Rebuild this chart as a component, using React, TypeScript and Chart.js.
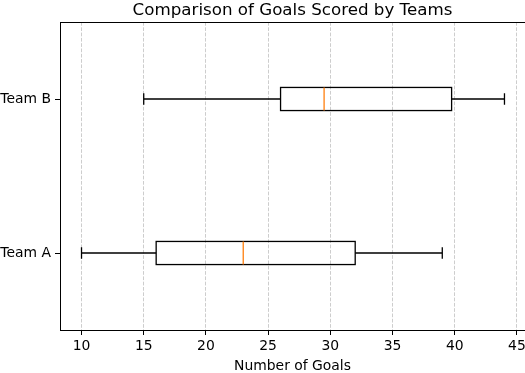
import React, { useEffect, useRef } from "react";
import { Chart, registerables } from "chart.js";

Chart.register(...registerables);

const teams = ["Team A", "Team B"];
const mins = [10, 15];
const q1s = [16, 26];
const medians = [23, 29.5];
const q3s = [32, 39.75];
const maxs = [39, 44];
const xTicks = [10, 15, 20, 25, 30, 35, 40, 45];

const chartTitle = "Comparison of Goals Scored by Teams";
const xTitle = "Number of Goals";
const FONT = "DejaVu Sans";

const boxPlugin = {
  id: "boxes",
  afterDatasetsDraw(chart: any) {
    const { ctx, scales, chartArea } = chart;
    const xs = scales.x;
    const ys = scales.y;
    ctx.save();
    ctx.beginPath();
    ctx.rect(chartArea.left, chartArea.top, chartArea.right - chartArea.left, chartArea.bottom - chartArea.top);
    ctx.clip();
    ctx.lineWidth = 1.3;
    for (let i = 0; i < teams.length; i++) {
      const yc = ys.getPixelForValue(i + 1);
      const half = Math.abs(ys.getPixelForValue(i + 1 + 0.075) - yc);
      const capHalf = half / 2;
      const xMin = xs.getPixelForValue(mins[i]);
      const xQ1 = xs.getPixelForValue(q1s[i]);
      const xMed = xs.getPixelForValue(medians[i]);
      const xQ3 = xs.getPixelForValue(q3s[i]);
      const xMax = xs.getPixelForValue(maxs[i]);
      ctx.strokeStyle = "#000";
      ctx.beginPath();
      ctx.moveTo(xMin, yc);
      ctx.lineTo(xQ1, yc);
      ctx.moveTo(xQ3, yc);
      ctx.lineTo(xMax, yc);
      ctx.moveTo(xMin, yc - capHalf);
      ctx.lineTo(xMin, yc + capHalf);
      ctx.moveTo(xMax, yc - capHalf);
      ctx.lineTo(xMax, yc + capHalf);
      ctx.stroke();
      ctx.strokeRect(xQ1, yc - half, xQ3 - xQ1, 2 * half);
      ctx.strokeStyle = "#ff7f0e";
      ctx.beginPath();
      ctx.moveTo(xMed, yc - half);
      ctx.lineTo(xMed, yc + half);
      ctx.stroke();
    }
    ctx.restore();
  },
  afterDraw(chart: any) {
    const { ctx, chartArea } = chart;
    ctx.save();
    // top spine
    ctx.strokeStyle = "#000";
    ctx.lineWidth = 1;
    ctx.beginPath();
    ctx.moveTo(chartArea.left, Math.round(chartArea.top) + 0.5);
    ctx.lineTo(chartArea.right, Math.round(chartArea.top) + 0.5);
    ctx.stroke();
    ctx.fillStyle = "#000";
    ctx.textAlign = "center";
    ctx.textBaseline = "alphabetic";
    const cx = (chartArea.left + chartArea.right) / 2;
    ctx.font = `16.7px "${FONT}"`;
    ctx.fillText(chartTitle, cx, 15);
    ctx.font = `13.9px "${FONT}"`;
    ctx.fillText(xTitle, cx, 370);
    ctx.restore();
  },
};

export default function App() {
  const ref = useRef<HTMLCanvasElement>(null);
  useEffect(() => {
    document.body.style.margin = "0";
    const canvas = ref.current!;
    const chart = new Chart(canvas, {
      type: "scatter",
      data: {
        datasets: [
          {
            data: medians.map((m, i) => ({ x: m, y: i + 1 })),
            pointRadius: 0,
            showLine: false,
          },
        ],
      },
      options: {
        animation: false,
        responsive: false,
        layout: { padding: { top: 22, left: 0, right: 0, bottom: 0 } },
        plugins: { legend: { display: false }, tooltip: { enabled: false }, title: { display: false } },
        scales: {
          x: {
            type: "linear",
            min: 8.27,
            max: 45.65,
            afterBuildTicks: (axis: any) => {
              axis.ticks = xTicks.map((v) => ({ value: v }));
            },
            afterFit: (scale: any) => {
              scale.height = 43;
              scale.paddingLeft = 0;
              scale.paddingRight = 0;
            },
            ticks: {
              autoSkip: false,
              maxRotation: 0,
              color: "#000",
              padding: 3,
              font: { family: FONT, size: 13.9 },
              callback: (v: any) => String(v),
            },
            grid: {
              color: "rgba(176,176,176,0.7)",
              lineWidth: 0.9,
              drawOnChartArea: true,
              drawTicks: true,
              tickLength: 5,
              tickColor: "#000",
              tickWidth: 1,
              tickBorderDash: [],
            },
            border: { display: true, color: "#000", width: 1, dash: [3.7, 1.6] },
          },
          y: {
            type: "linear",
            min: 0.5,
            max: 2.5,
            afterBuildTicks: (axis: any) => {
              axis.ticks = teams.map((_, i) => ({ value: i + 1 }));
            },
            afterFit: (scale: any) => {
              scale.width = 60;
              scale.paddingTop = 0;
              scale.paddingBottom = 0;
            },
            ticks: {
              autoSkip: false,
              color: "#000",
              padding: 4,
              font: { family: FONT, size: 13.9 },
              callback: (v: any) => teams[Number(v) - 1] ?? "",
            },
            grid: {
              drawOnChartArea: false,
              drawTicks: true,
              tickLength: 5,
              tickColor: "#000",
              tickWidth: 1,
            },
            border: { display: true, color: "#000", width: 1 },
          },
        },
      },
      plugins: [boxPlugin],
    });
    return () => chart.destroy();
  }, []);
  return <canvas ref={ref} width={525} height={373} style={{ display: "block" }} />;
}
